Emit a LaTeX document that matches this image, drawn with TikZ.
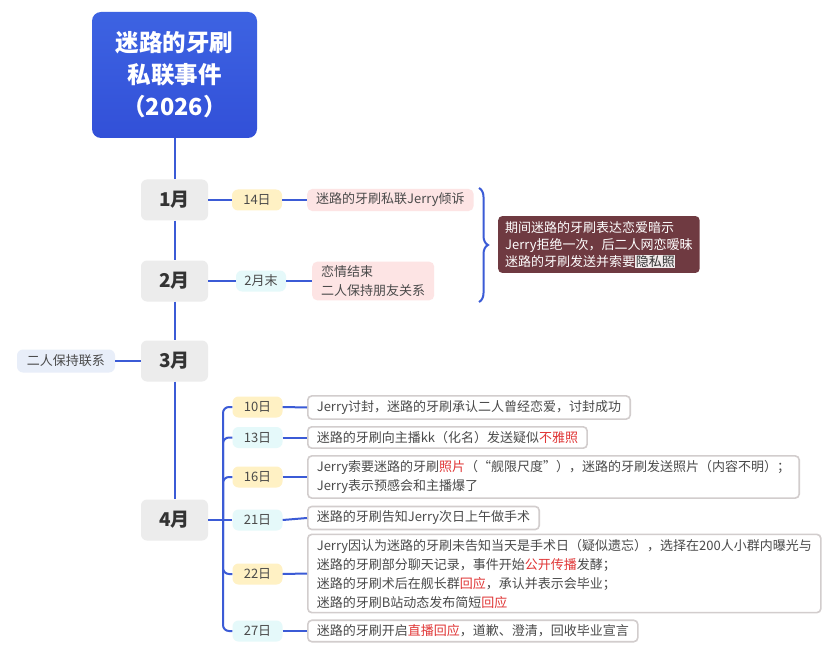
\documentclass[tikz,border=0pt]{standalone}
\usepackage{fontspec}
\setmainfont{Noto Sans CJK SC}
\usetikzlibrary{decorations.pathreplacing}
\definecolor{rootblue}{HTML}{3858DC}
\definecolor{roottop}{HTML}{3D63E2}
\definecolor{rootbot}{HTML}{3250D8}
\definecolor{lineblue}{HTML}{3B5BD6}
\definecolor{monthgray}{HTML}{ECECEC}
\definecolor{tagyellow}{HTML}{FFF1C4}
\definecolor{tagcyan}{HTML}{E5F9FA}
\definecolor{pinkbox}{HTML}{FDE4E4}
\definecolor{maroon}{HTML}{6F3A41}
\definecolor{tagblue}{HTML}{E8EEF9}
\definecolor{boxborder}{HTML}{D2CDCD}
\definecolor{txt}{HTML}{4A4A4A}
\definecolor{redtxt}{HTML}{E03636}
\definecolor{hl}{HTML}{F1EBEB}
\tikzset{
  conn/.style={draw=lineblue, line width=2pt},
  rootbox/.style={top color=roottop, bottom color=rootbot, rounded corners=9pt, minimum width=165pt, minimum height=126pt,
    text=white, align=center, font=\bfseries\fontsize{23.5}{32}\selectfont},
  monthbox/.style={fill=monthgray, rounded corners=6pt, minimum width=67pt, minimum height=41pt,
    text=black!80, font=\bfseries\fontsize{19}{22}\selectfont},
  tagbase/.style={rounded corners=6pt, minimum width=50pt, minimum height=21pt, inner xsep=6pt,
    text=txt, font=\fontsize{13}{16}\selectfont},
  tagY/.style={tagbase, fill=tagyellow},
  tagC/.style={tagbase, fill=tagcyan},
  tagB/.style={tagbase, fill=tagblue, minimum width=98pt, minimum height=23pt},
  pbox/.style={fill=pinkbox, rounded corners=5pt, inner xsep=9pt, inner ysep=4pt, align=left,
    text=txt, font=\fontsize{13}{18.5}\selectfont, anchor=west},
  wbox/.style={draw=boxborder, line width=1.6pt, fill=white, rounded corners=4pt, inner xsep=9pt,
    inner ysep=4.5pt, align=left, text=txt, font=\fontsize{13}{19}\selectfont, anchor=west},
  dbox/.style={fill=maroon, rounded corners=4pt, inner xsep=7pt, inner ysep=5pt, align=left,
    text=white, font=\fontsize{13}{17}\selectfont, anchor=west},
}
\newcommand{\hred}[1]{\textcolor{redtxt}{#1}}
\begin{document}
\begin{tikzpicture}[x=1pt,y=-1pt]
\fill[white] (0,0) rectangle (830,655);
\useasboundingbox (0,0) rectangle (830,655);

% root and months
\node[rootbox] (root) at (174.5,75) {迷路的牙刷\\私联事件\\（2026）};
\node[monthbox] (m1) at (174.5,200) {1月};
\node[monthbox] (m2) at (174.5,281) {2月};
\node[monthbox] (m3) at (174.5,361) {3月};
\node[monthbox] (m4) at (174.5,520) {4月};

\draw[conn] (root.south) -- (m1.north);
\draw[conn] (m1.south) -- (m2.north);
\draw[conn] (m2.south) -- (m3.north);
\draw[conn] (m3.south) -- (m4.north);

% January
\node[tagY] (t14) at (257,200) {14日};
\node[pbox] (p14) at (307,200) {迷路的牙刷私联Jerry倾诉};
\draw[conn] (m1.east) -- (t14.west);
\draw[conn] (t14.east) -- (p14.west);

% February
\node[tagC] (t2m) at (261,281) {2月末};
\node[pbox] (p2m) at (312,281) {恋情结束\\二人保持朋友关系};
\draw[conn] (m2.east) -- (t2m.west);
\draw[conn] (t2m.east) -- (p2m.west);

% brace and summary
\coordinate (bt) at (479,188);
\coordinate (bb) at (479,302);
\draw[conn, decorate, decoration={brace, amplitude=9pt}] (bt) -- (bb);
\node[dbox] (sum) at (498,244.5) {期间迷路的牙刷表达恋爱暗示\\Jerry拒绝一次，后二人网恋暧昧\\迷路的牙刷发送并索要{\setlength\fboxsep{0.6pt}\colorbox{hl}{\textcolor{black!80}{隐私照}}}};

% March
\node[tagB] (k3) at (66,361) {二人保持联系};
\draw[conn] (m3.west) -- (k3.east);

% April
\coordinate (br) at (223,520);
\draw[conn] (m4.east) -- (br);
\node[tagY] (t10) at (257.5,407) {10日};
\node[tagC] (t13) at (257.5,437.5) {13日};
\node[tagY] (t16) at (257.5,477) {16日};
\node[tagC] (t21) at (257.5,520) {21日};
\node[tagY] (t22) at (257.5,574) {22日};
\node[tagC] (t27) at (257.5,631) {27日};
\foreach \t in {t10,t13,t16,t22,t27}
  \draw[conn, rounded corners=6pt] (br) |- (\t.west);
\draw[conn] (br) -- (t21.west);

\node[wbox] (b10) at (307,407.5) {Jerry讨封，迷路的牙刷承认二人曾经恋爱，讨封成功};
\node[wbox] (b13) at (307,437.5) {迷路的牙刷向主播kk（化名）发送疑似\hred{不雅照}};
\node[wbox] (b16) at (307,477) {Jerry索要迷路的牙刷\hred{照片}（“舰限尺度”），迷路的牙刷发送照片（内容不明）；\\Jerry表示预感会和主播爆了};
\node[wbox] (b21) at (307,518) {迷路的牙刷告知Jerry次日上午做手术};
\node[wbox] (b22) at (307,573.5) {Jerry因认为迷路的牙刷未告知当天是手术日（疑似遗忘），选择在200人小群内曝光与\\迷路的牙刷部分聊天记录，事件开始\hred{公开传播}发酵；\\迷路的牙刷术后在舰长群\hred{回应}，承认并表示会毕业；\\迷路的牙刷B站动态发布简短\hred{回应}};
\node[wbox] (b27) at (307,631) {迷路的牙刷开启\hred{直播回应}，道歉、澄清，回收毕业宣言};

\draw[conn] (t10.east) -- (b10.west);
\draw[conn] (t13.east) -- (b13.west);
\draw[conn] (t16.east) -- (b16.west);
\draw[conn] (t21.east) -- (b21.west);
\draw[conn] (t22.east) -- (b22.west);
\draw[conn] (t27.east) -- (b27.west);
\end{tikzpicture}
\end{document}
